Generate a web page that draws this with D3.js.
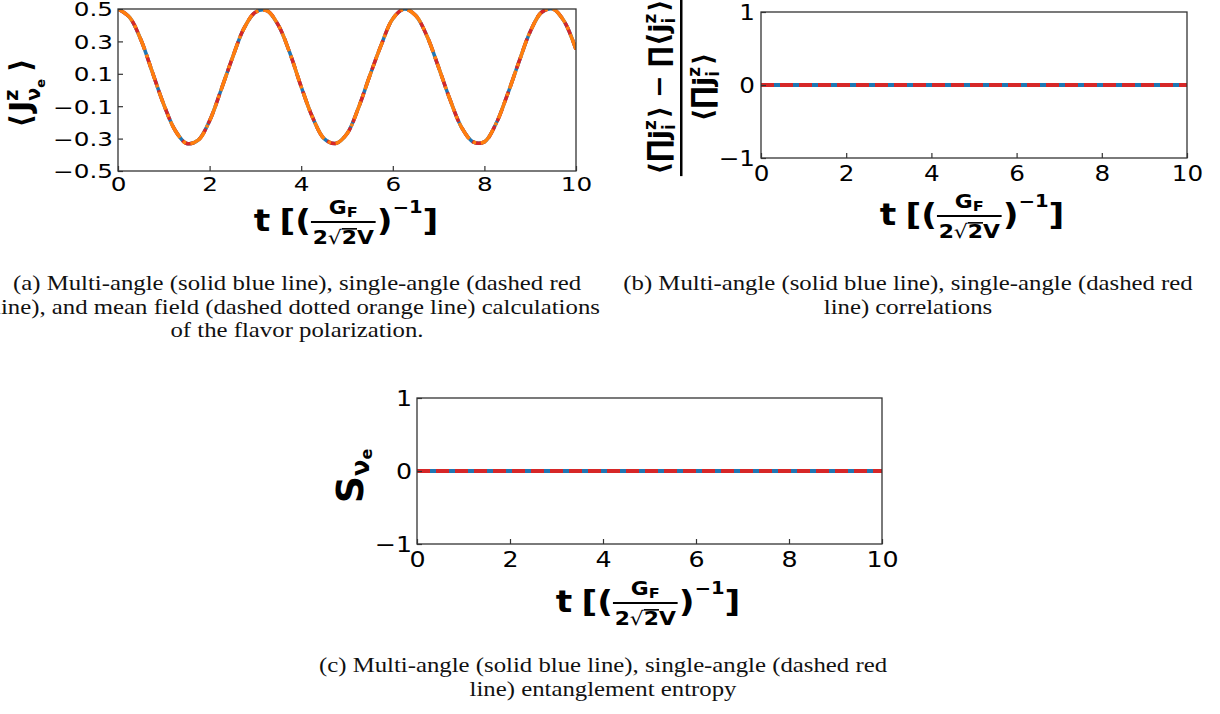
<!DOCTYPE html>
<html>
<head>
<meta charset="utf-8">
<script src="https://cdn.jsdelivr.net/npm/d3@7"></script>
<style>
body { margin: 0; background: #fff; }
svg { display: block; }
text { font-family: "DejaVu Sans", sans-serif; }
.cap { font-family: "Liberation Serif", serif; }
</style>
</head>
<body>
<script>
// time samples and the flavour polarization <J^z>
var tA = [0,0.25,0.5,0.75,1,1.25,1.5,1.75,2,2.25,2.5,2.75,3,3.25,3.5,3.75,4,4.25,4.5,4.75,
          5,5.25,5.5,5.75,6,6.25,6.5,6.75,7,7.25,7.5,7.75,8,8.25,8.5,8.75,9,9.25,9.5,9.75,10];
var jzMulti = [0.50,0.45,0.31,0.11,-0.09,-0.25,-0.33,-0.31,-0.19,0.00,0.20,0.38,0.48,0.49,0.40,0.23,
               0.02,-0.17,-0.30,-0.33,-0.27,-0.11,0.09,0.28,0.44,0.50,0.46,0.33,0.14,-0.06,-0.23,-0.32,
               -0.32,-0.21,-0.03,0.17,0.36,0.48,0.50,0.42,0.25];
// single-angle and mean field curves sit right on the multi-angle one
var jzSingle = jzMulti.slice();
var jzMean = jzMulti.slice();

// panels (b) and (c): flat at zero over the whole run
var tFlat = [0, 10];
var corrMulti = [0, 0], corrSingle = [0, 0];
var entMulti = [0, 0], entSingle = [0, 0];

var xTicks = [0, 2, 4, 6, 8, 10];
var yTicksA = [0.5, 0.3, 0.1, -0.1, -0.3, -0.5];
var yTicksBC = [-1, 0, 1];

var capA = ["(a) Multi-angle (solid blue line), single-angle (dashed red",
            "line), and mean field (dashed dotted orange line) calculations",
            "of the flavor polarization."];
var capB = ["(b) Multi-angle (solid blue line), single-angle (dashed red",
            "line) correlations"];
var capC = ["(c) Multi-angle (solid blue line), single-angle (dashed red",
            "line) entanglement entropy"];

var blue = "#1f77b4", red = "#d62728", orange = "#ff7f0e";

var svg = d3.select("body").append("svg").attr("width", 1220).attr("height", 714);

// little helper to lay out bold "mathtext" pieces one after another
function row(g, items) {
  var x = 0, start = 0;
  items.forEach(function(p) {
    if (p.num) {
      var gn = g.append("g"), gd = g.append("g");
      var wn = row(gn, p.num), wd = row(gd, p.den);
      var w = Math.max(wn, wd) + 3;
      gn.attr("transform", "translate(" + (x + (w - wn) / 2) + "," + p.ny + ")");
      gd.attr("transform", "translate(" + (x + (w - wd) / 2) + "," + p.dny + ")");
      g.append("rect").attr("x", x).attr("y", p.by - 1).attr("width", w).attr("height", p.bh || 2).attr("fill", "#000");
      start = x; x += w + (p.after || 0);
      return;
    }
    var at = p.stack ? start : x + (p.pre || 0);
    var t = g.append("text").attr("x", at).attr("y", p.dy || 0)
      .attr("font-size", p.f).attr("font-weight", p.light ? "normal" : "bold").text(p.s);
    var w = t.node().getComputedTextLength();
    if (p.over) g.append("rect").attr("x", at).attr("y", (p.dy || 0) - p.f * 0.84).attr("width", w).attr("height", 1.6);
    if (p.stack) x = Math.max(x, at + w);
    else { start = at; x = at + w; }
  });
  return x;
}

function xLabel(cx, by) {
  var g = svg.append("g").attr("transform", "translate(" + cx + "," + by + ") scale(1.15,1)");
  var inner = g.append("g");
  var w = row(inner, [
    {s: "t", f: 30, dy: 9}, {s: "[(", f: 30, dy: 9, pre: 8},
    {num: [{s: "G", f: 19}, {s: "F", f: 14, dy: 3}],
     den: [{s: "2", f: 19}, {s: "\u221A", f: 19, light: true}, {s: "2", f: 19, over: true}, {s: "V", f: 19}],
     ny: -8, dny: 22, by: 0, after: 1},
    {s: ")", f: 30, dy: 9}, {s: "\u22121", f: 17, dy: -9}, {s: "]", f: 30, dy: 9}
  ]);
  inner.attr("transform", "translate(" + (-w / 2) + ",0)");
}

function yLabel(cx, cy, items) {
  var g = svg.append("g").attr("transform", "translate(" + cx + "," + cy + ") rotate(-90)");
  var inner = g.append("g");
  var w = row(inner, items);
  inner.attr("transform", "translate(" + (-w / 2) + ",0)");
  return g;
}

function panel(o) {
  var x = d3.scaleLinear().domain([0, 10]).range([o.x0, o.x1]);
  var y = d3.scaleLinear().domain(o.ydom).range([o.y1, o.y0]);
  var g = svg.append("g");
  g.append("clipPath").attr("id", o.id).append("rect")
    .attr("x", o.x0).attr("y", o.y0).attr("width", o.x1 - o.x0).attr("height", o.y1 - o.y0);
  var plot = g.append("g").attr("clip-path", "url(#" + o.id + ")");
  var line = d3.line().x(function(d) { return x(d[0]); }).y(function(d) { return y(d[1]); })
    .curve(d3.curveCatmullRom);
  o.series.forEach(function(s) {
    plot.append("path").datum(d3.zip(s.t, s.v))
      .attr("d", line).attr("fill", "none").attr("stroke", s.color)
      .attr("stroke-width", s.w).attr("stroke-dasharray", s.dash || null);
  });
  g.append("rect").attr("x", o.x0).attr("y", o.y0).attr("width", o.x1 - o.x0).attr("height", o.y1 - o.y0)
    .attr("fill", "none").attr("stroke", "#333").attr("stroke-width", 1.3);

  var ax = g.append("g").attr("transform", "translate(0," + o.y1 + ")")
    .call(d3.axisBottom(x).tickValues(xTicks).tickSizeInner(-5).tickSizeOuter(0).tickFormat(d3.format("d")));
  ax.attr("font-family", null).attr("font-size", o.fs);
  ax.select(".domain").remove();
  ax.selectAll("line").attr("stroke", "#333").attr("stroke-width", 1.2);
  ax.selectAll("text").attr("y", 0).attr("dy", null).attr("fill", "#000")
    .attr("transform", "translate(0," + o.xpad + ") scale(" + o.sx + ",1)");

  var ay = g.append("g").attr("transform", "translate(" + o.x0 + ",0)")
    .call(d3.axisLeft(y).tickValues(o.yticks).tickSizeInner(-5).tickSizeOuter(0).tickFormat(o.yfmt));
  ay.attr("font-family", null).attr("font-size", o.fs);
  ay.select(".domain").remove();
  ay.selectAll("line").attr("stroke", "#333").attr("stroke-width", 1.2);
  ay.selectAll("text").attr("x", 0).attr("dy", "0.36em").attr("fill", "#000")
    .attr("transform", "translate(" + (-o.ypad) + ",0) scale(" + o.sx + ",1)");
}

// (a) flavour polarization
panel({id: "ca", x0: 118, x1: 576, y0: 9, y1: 171, ydom: [-0.5, 0.5], yticks: yTicksA,
  yfmt: d3.format(".1f"), fs: 19, sx: 1.3, xpad: 20, ypad: 5,
  series: [
    {t: tA, v: jzMulti, color: blue, w: 3.5},
    {t: tA, v: jzSingle, color: red, w: 3.5, dash: "13,5.6"},
    {t: tA, v: jzMean, color: orange, w: 3.5, dash: "19,4.8,3,4.8"}
  ]});

// (b) correlations
panel({id: "cb", x0: 761, x1: 1187, y0: 12, y1: 158, ydom: [-1, 1], yticks: yTicksBC,
  yfmt: d3.format("d"), fs: 22, sx: 1.12, xpad: 23, ypad: 6,
  series: [
    {t: tFlat, v: corrMulti, color: blue, w: 4},
    {t: tFlat, v: corrSingle, color: red, w: 4, dash: "13,6"}
  ]});

// (c) entanglement entropy
panel({id: "cc", x0: 417, x1: 882, y0: 398, y1: 544, ydom: [-1, 1], yticks: yTicksBC,
  yfmt: d3.format("d"), fs: 22, sx: 1.15, xpad: 23, ypad: 5,
  series: [
    {t: tFlat, v: entMulti, color: blue, w: 4},
    {t: tFlat, v: entSingle, color: red, w: 4, dash: "13,6"}
  ]});

xLabel(346, 222);
xLabel(972, 216);
xLabel(648, 603);

// y labels
yLabel(31, 93, [
  {s: "\u27E8", f: 30}, {s: "J", f: 30, pre: 2}, {s: "z", f: 19, dy: -13},
  {s: "\u03BD", f: 19, dy: 9, stack: true}, {s: "e", f: 13, dy: 14}, {s: "\u27E9", f: 30, pre: 7}
]);

var prodJ = function(f, lead) {
  return [{s: lead ? "\u27E8" : "\u220F", f: f}, {s: lead ? "\u220F" : "\u27E8", f: f * 1.08},
          {s: "j", f: f}, {s: "z", f: f * 0.62, dy: -f * 0.45},
          {s: "i", f: f * 0.62, dy: f * 0.25, stack: true}, {s: "\u27E9", f: f, pre: 2}];
};
var numB = prodJ(27, true).concat([{s: "\u2212", f: 27, pre: 8}], prodJ(27, false).map(function(p, i) {
  return i === 0 ? Object.assign({}, p, {pre: 8}) : p;
}));
var denB = prodJ(27, true);
yLabel(681, 87, [{num: numB, den: denB, ny: -13, dny: 31, by: 0, bh: 2.5}]);

yLabel(363, 476, [
  {s: "S", f: 38}, {s: "\u03BD", f: 24, dy: 6}, {s: "e", f: 16, dy: 9}
]);

// captions
function caption(cx, y0, lines) {
  lines.forEach(function(s, i) {
    svg.append("text").attr("class", "cap")
      .attr("transform", "translate(" + cx + "," + (y0 + i * 23.5) + ") scale(1.18,1)")
      .attr("text-anchor", "middle").attr("font-size", 21).attr("fill", "#111").text(s);
  });
}
caption(297, 290, capA);
caption(908, 290, capB);
caption(603, 672, capC);
</script>
</body>
</html>
